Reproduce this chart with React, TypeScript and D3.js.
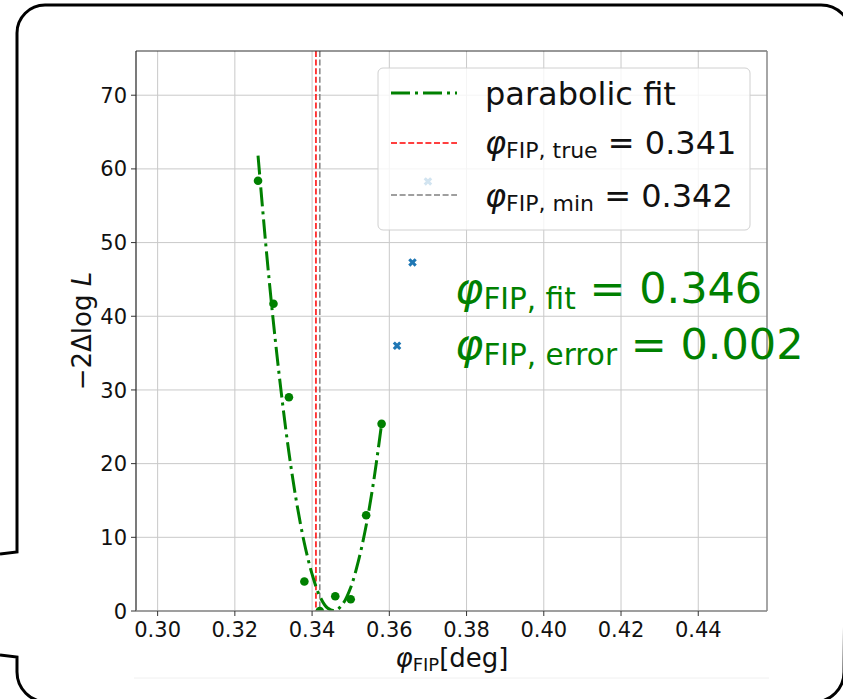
import React from "react";
import * as d3 from "d3";

// ---- data ----
const scanPhi = [0.326, 0.33, 0.334, 0.338, 0.342, 0.346, 0.35, 0.354, 0.358];
const scanNll = [58.4, 41.7, 29.0, 4.0, 0.0, 2.0, 1.6, 13.0, 25.4];
const extraPhi = [0.362, 0.366, 0.37];
const extraNll = [36.0, 47.3, 58.3];
const fitPhi = [0.326, 0.328, 0.33, 0.332, 0.334, 0.336, 0.338, 0.34, 0.342, 0.344, 0.346, 0.348, 0.35, 0.352, 0.354, 0.356, 0.358];
const fitNll = [61.8, 49.8, 39.1, 29.7, 21.5, 14.7, 9.2, 5.0, 2.0, 0.4, 0.04, 1.0, 3.2, 6.8, 11.6, 17.8, 25.4];
const xTicks = [0.3, 0.32, 0.34, 0.36, 0.38, 0.4, 0.42, 0.44];
const yTicks = [0, 10, 20, 30, 40, 50, 60, 70];
const phiTrue = 0.341;
const phiMin = 0.342;
const phiFit = 0.346;
const phiErr = 0.002;

const W = 843;
const H = 699;
const L = 136, R = 767, T = 51, B = 611;
const FONT = "'DejaVu Sans', sans-serif";

export default function App() {
  const x = d3.scaleLinear().domain([0.2944, 0.4578]).range([L, R]);
  const y = d3.scaleLinear().domain([0, 76]).range([B, T]);
  const fitLine = d3
    .line<number>()
    .x((_, i) => x(fitPhi[i]))
    .y((d) => y(d))
    .curve(d3.curveCatmullRom.alpha(0.5));
  const xSym = d3.symbol().type(d3.symbolCross).size(46)();
  const fmt = d3.format(".2f");

  const framePath =
    "M 0 554 L 17 552 L 17 33 A 28 28 0 0 1 45 5 L 821 5 A 30 30 0 0 1 851 35 L 844 672 A 30 30 0 0 1 814 702 L 47 702 A 30 30 0 0 1 17 672 L 17 657 L 0 655";

  const legendRows = [
    { y: 93, base: 105 },
    { y: 143, base: 154 },
    { y: 195, base: 207 },
  ];

  return (
    <svg
      width={W}
      height={H}
      style={{ position: "absolute", left: 0, top: 0, background: "#fff" }}
      fontFamily={FONT}
    >
      <defs>
        <clipPath id="plotclip">
          <rect x={L} y={T} width={R - L} height={B - T} />
        </clipPath>
      </defs>
      <rect x={0} y={0} width={W} height={H} fill="#fff" />
      <path d={framePath} fill="none" stroke="#000" strokeWidth={3} />
      <line x1={134} x2={769} y1={678} y2={678} stroke="#f0f0f0" strokeWidth={1} />

      {/* grid */}
      {xTicks.map((t) => (
        <line key={"gx" + t} x1={x(t)} x2={x(t)} y1={T} y2={B} stroke="#c9c9c9" strokeWidth={1} />
      ))}
      {yTicks.map((t) => (
        <line key={"gy" + t} x1={L} x2={R} y1={y(t)} y2={y(t)} stroke="#c9c9c9" strokeWidth={1} />
      ))}

      <g clipPath="url(#plotclip)">
        <line x1={x(phiTrue)} x2={x(phiTrue)} y1={T} y2={B} stroke="#ff0000" strokeWidth={1.5} strokeDasharray="6,2.6" />
        <line x1={x(phiMin)} x2={x(phiMin)} y1={T} y2={B} stroke="#808080" strokeWidth={1.5} strokeDasharray="6,2.6" />
        <path d={fitLine(fitNll) || ""} fill="none" stroke="#008000" strokeWidth={3} strokeDasharray="19,5,3,5" />
        {scanPhi.map((p, i) => (
          <circle key={"s" + i} cx={x(p)} cy={y(scanNll[i])} r={4.3} fill="#008000" />
        ))}
        {extraPhi.map((p, i) => (
          <path
            key={"e" + i}
            d={xSym || ""}
            transform={`translate(${x(p)},${y(extraNll[i])}) rotate(45)`}
            fill="#1f77b4"
          />
        ))}
      </g>

      {/* spines */}
      <line x1={L} x2={L} y1={T} y2={B} stroke="#222" strokeWidth={1.2} />
      <line x1={L} x2={R} y1={T} y2={T} stroke="#333" strokeWidth={1.2} />
      <line x1={R} x2={R} y1={T} y2={B} stroke="#888" strokeWidth={1.5} />
      <line x1={L} x2={R} y1={B} y2={B} stroke="#888" strokeWidth={1.5} />

      {/* ticks */}
      {xTicks.map((t) => (
        <g key={"tx" + t}>
          <line x1={x(t)} x2={x(t)} y1={B} y2={B + 5} stroke="#333" strokeWidth={1} />
          <text x={x(t)} y={637} textAnchor="middle" fontSize={21} fill="#111">
            {fmt(t)}
          </text>
        </g>
      ))}
      {yTicks.map((t) => (
        <g key={"ty" + t}>
          <line x1={L - 5} x2={L} y1={y(t)} y2={y(t)} stroke="#333" strokeWidth={1} />
          <text x={127} y={y(t)} dy="0.36em" textAnchor="end" fontSize={21} fill="#111">
            {t}
          </text>
        </g>
      ))}

      {/* axis labels */}
      <text x={452} y={667} textAnchor="middle" fontSize={26} fill="#111">
        <tspan fontStyle="italic">φ</tspan>
        <tspan fontSize={18} dy={4}>FIP</tspan>
        <tspan dy={-4}>[deg]</tspan>
      </text>
      <text transform={`translate(91, ${(T + B) / 2}) rotate(-90)`} textAnchor="middle" fontSize={26} fill="#111">
        −2Δlog <tspan fontStyle="italic">L</tspan>
      </text>

      {/* legend */}
      <rect x={378} y={68} width={372} height={162} rx={5} fill="#fff" fillOpacity={0.8} stroke="#d0d0d0" strokeWidth={1} />
      <line x1={391} x2={457} y1={legendRows[0].y} y2={legendRows[0].y} stroke="#008000" strokeWidth={3} strokeDasharray="19,5,3,5" />
      <line x1={391} x2={457} y1={legendRows[1].y} y2={legendRows[1].y} stroke="#ff0000" strokeWidth={1.5} strokeDasharray="6,2.6" />
      <line x1={391} x2={457} y1={legendRows[2].y} y2={legendRows[2].y} stroke="#808080" strokeWidth={1.5} strokeDasharray="6,2.6" />
      <text x={485} y={legendRows[0].base} fontSize={32} fill="#111">parabolic fit</text>
      <text x={485} y={legendRows[1].base} fontSize={32} fill="#111">
        <tspan fontStyle="italic">φ</tspan>
        <tspan fontSize={22} dy={4}>FIP, true</tspan>
        <tspan dy={-4}> = {phiTrue.toFixed(3)}</tspan>
      </text>
      <text x={485} y={legendRows[2].base} fontSize={32} fill="#111">
        <tspan fontStyle="italic">φ</tspan>
        <tspan fontSize={22} dy={4}>FIP, min</tspan>
        <tspan dy={-4}> = {phiMin.toFixed(3)}</tspan>
      </text>

      {/* annotation */}
      <text x={455} y={303} fontSize={43} fill="#008000">
        <tspan fontStyle="italic">φ</tspan>
        <tspan fontSize={29.5} dy={6}>FIP, fit</tspan>
        <tspan dy={-6}> = {phiFit.toFixed(3)}</tspan>
      </text>
      <text x={455} y={359} fontSize={43} fill="#008000">
        <tspan fontStyle="italic">φ</tspan>
        <tspan fontSize={29.5} dy={6}>FIP, error</tspan>
        <tspan dy={-6}> = {phiErr.toFixed(3)}</tspan>
      </text>
    </svg>
  );
}
